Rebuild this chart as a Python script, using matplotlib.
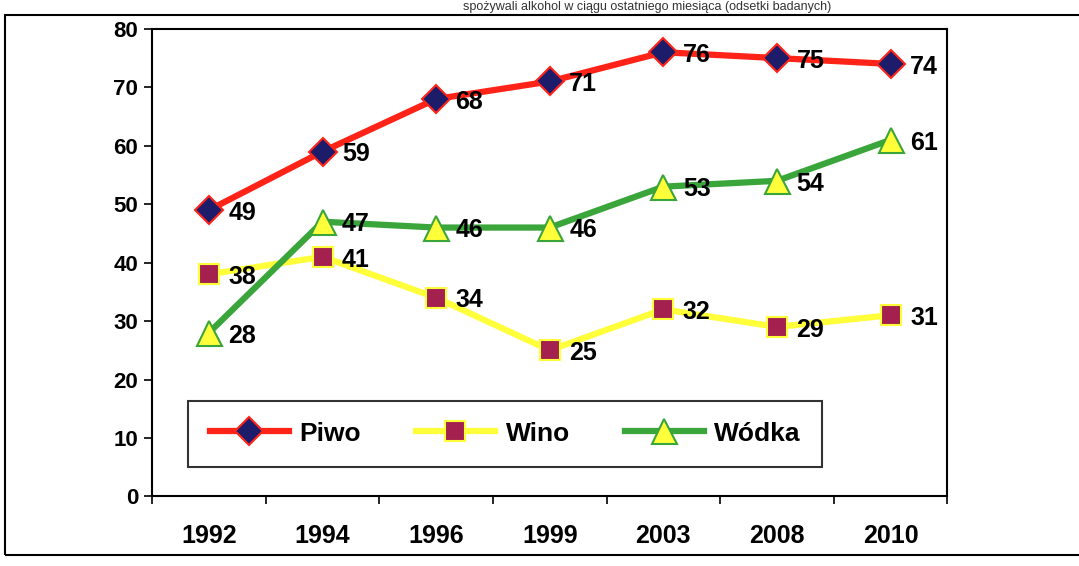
import numpy as np
import matplotlib.pyplot as plt
from matplotlib.patches import Rectangle

# Spożycie alkoholu w ciągu ostatniego miesiąca (odsetki badanych)
lata = ['1992', '1994', '1996', '1999', '2003', '2008', '2010']
piwo = [49, 59, 68, 71, 76, 75, 74]
wino = [38, 41, 34, 25, 32, 29, 31]
wodka = [28, 47, 46, 46, 53, 54, 61]

plt.rcParams['font.family'] = ['Liberation Sans', 'DejaVu Sans']
plt.rcParams['font.weight'] = 'bold'

fig = plt.figure(figsize=(10.79, 5.66), dpi=100)
ax = fig.add_axes([0.141, 0.123, 0.737, 0.826])

x = np.arange(len(lata))

ax.plot(x, piwo, color='#ff2318', linewidth=4.5, marker='D', markersize=14,
        markerfacecolor='#1c1c6b', markeredgecolor='#ff2318', markeredgewidth=1.5,
        label='Piwo', zorder=3)
ax.plot(x, wino, color='#ffff3a', linewidth=4.5, marker='s', markersize=15,
        markerfacecolor='#a3204f', markeredgecolor='#ffff3a', markeredgewidth=1.5,
        label='Wino', zorder=3)
ax.plot(x, wodka, color='#3aa53a', linewidth=4.5, marker='^', markersize=18,
        markerfacecolor='#ffff3a', markeredgecolor='#3aa53a', markeredgewidth=1.5,
        label='Wódka', zorder=4)

for serie in (piwo, wino, wodka):
    for xi, v in zip(x, serie):
        ax.annotate(str(v), (xi, v), xytext=(14, -2), textcoords='offset points',
                    ha='left', va='center', fontsize=18, fontweight='bold', zorder=5)

ax.set_xlim(-0.5, len(lata) - 0.5)
ax.set_ylim(0, 80)
ax.set_yticks(np.arange(0, 81, 10))
ax.set_xticks(x)
ax.set_xticklabels(lata)
ax.set_xticks(np.arange(-0.5, len(lata), 1.0), minor=True)
ax.tick_params(axis='x', which='major', length=0, pad=20, labelsize=18)
ax.tick_params(axis='x', which='minor', length=6, width=1.2, direction='out')
ax.tick_params(axis='y', length=6, width=1.2, direction='out', labelsize=16, pad=4)
for lab in ax.get_xticklabels() + ax.get_yticklabels():
    lab.set_fontweight('bold')
for s in ax.spines.values():
    s.set_linewidth(1.5)
    s.set_color('black')

leg = ax.legend(loc='lower left', bbox_to_anchor=(0.029, 0.035, 0.83, 0.175), mode='expand',
                ncol=3, fontsize=19, frameon=True, fancybox=False, edgecolor='black',
                handlelength=3.0, borderpad=0.8, handletextpad=0.4)
leg.get_frame().set_linewidth(1.5)
for t in leg.get_texts():
    t.set_fontweight('bold')

# ramka strony i nagłówek
fig.patches.append(Rectangle((0.005, 0.02), 1.2, 0.953, transform=fig.transFigure,
                             fill=False, edgecolor='black', linewidth=1.5))
fig.text(0.6, 0.999, 'spożywali alkohol w ciągu ostatniego miesiąca (odsetki badanych)',
         ha='center', va='top', fontsize=9, fontweight='normal', color='#333333')

plt.savefig('out.png', dpi=100)
